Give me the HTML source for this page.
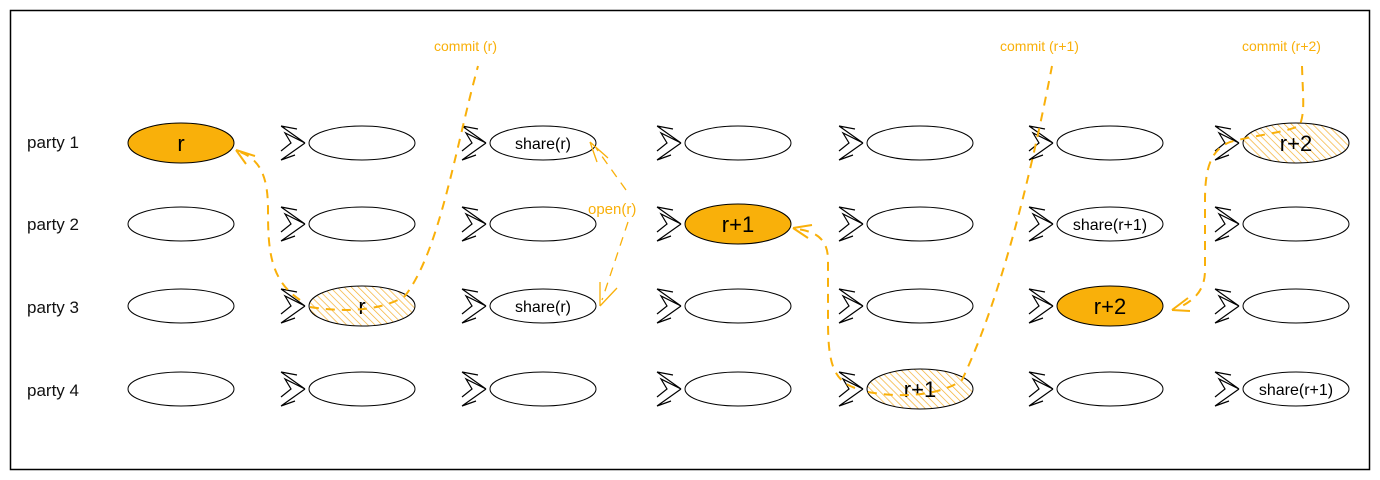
<!DOCTYPE html>
<html><head><meta charset="utf-8"><style>
html,body{margin:0;padding:0;background:#fff;}
svg{display:block;font-family:"Liberation Sans",sans-serif;}
</style></head><body>
<svg id="s" width="1380" height="480" viewBox="0 0 1380 480">
<defs>
<pattern id="hatch" width="5" height="5" patternUnits="userSpaceOnUse" patternTransform="rotate(-45)">
<rect width="5" height="5" fill="#fff"/>
<line x1="0" y1="0" x2="0" y2="5" stroke="#f4b030" stroke-width="1.4"/>
</pattern>
</defs>
<rect x="10.5" y="10.5" width="1359" height="459" fill="#fff" stroke="#000" stroke-width="1.5"/>
<g id="labels" font-size="17" fill="#111">
<text x="27" y="148">party 1</text>
<text x="27" y="230">party 2</text>
<text x="27" y="313">party 3</text>
<text x="27" y="396">party 4</text>
</g>
<g id="cells"></g>
<g fill="none" stroke="#f9b00a" stroke-width="2" stroke-dasharray="9 7">
<path d="M300,300 C270,280 268,250 268,210 C268,180 262,160 240,152"/>
<path d="M310,307 C340,312 380,312 405,296 C440,250 455,150 478,66"/>
<path d="M626,190 L596,148" stroke-width="1.3"/>
<path d="M628,222 L602,300" stroke-width="1.3"/>
<path d="M855,388 C832,380 828,360 828,320 L828,260 C828,238 815,232 798,229"/>
<path d="M868,392 C900,398 940,396 962,380 C1000,300 1030,180 1052,66"/>
<path d="M1302,66 C1303,100 1305,110 1300,125 C1290,132 1255,135 1230,142 C1210,150 1205,170 1205,200 L1205,270 C1205,290 1195,300 1178,308"/>
</g>
<g fill="none" stroke="#f9b00a" stroke-width="2">
<path d="M236,150 L255,156 M236,150 L246,164"/>
<path d="M590,142 L608,158 M590,142 L597,162" stroke-width="1.3"/>
<path d="M600,306 L600,282 M600,306 L617,288" stroke-width="1.3"/>
<path d="M793,228 L812,225 M793,228 L808,238"/>
<path d="M1172,310 L1188,298 M1172,310 L1190,311"/>
</g>
<g font-size="14" fill="#f9b00a">
<text x="434" y="51">commit (r)</text>
<text x="1000" y="51">commit (r+1)</text>
<text x="1242" y="51">commit (r+2)</text>
<text x="588" y="214" font-size="15">open(r)</text>
</g>
</svg>
<script>
const cols=[181,362,543,738,920,1110,1296];
const rows=[143,224,306,389];
// [col,row,kind,label]
const special=[[0,0,'fill','r'],[3,1,'fill','r+1'],[5,2,'fill','r+2'],
[1,2,'hatch','r'],[4,3,'hatch','r+1'],[6,0,'hatch','r+2'],
[2,0,'plain','share(r)'],[2,2,'plain','share(r)'],[5,1,'plain','share(r+1)'],[6,3,'plain','share(r+1)']];
const NS='http://www.w3.org/2000/svg';
const g=document.getElementById('cells');
function mk(t,a){const e=document.createElementNS(NS,t);for(const k in a)e.setAttribute(k,a[k]);return e;}
cols.forEach((cx,ci)=>rows.forEach((cy,ri)=>{
  const sp=special.find(s=>s[0]===ci&&s[1]===ri);
  const kind=sp?sp[2]:'plain';
  const big=kind!=='plain';
  const e=mk('ellipse',{cx:cx,cy:cy,rx:53,ry:big?20:17,stroke:'#000','stroke-width':1,
    fill:kind==='fill'?'#f9b00a':kind==='hatch'?'url(#hatch)':'#fff'});
  
  
  g.appendChild(e);
  if(sp){
    const t=mk('text',{x:cx,y:cy+(big?8:6),'text-anchor':'middle','font-size':big?22:16,fill:'#000'});
    t.textContent=sp[3];
    
    
    g.appendChild(t);
  }
  if(ci>0){
    const x=cx-53-4,y=cy;
    const a=mk('path',{d:`M${x},${y} L${x-24},${y-17} M${x},${y} L${x-24},${y+17} M${x},${y} L${x-20},${y-10} L${x-14},${y} L${x-24},${y+8} M${x-24},${y-17} L${x-8},${y-14} M${x-24},${y+17} L${x-10},${y+12}`,
      fill:'none',stroke:'#000','stroke-width':1.2});
    
    
    g.appendChild(a);
  }
}));
</script>
</body></html>
